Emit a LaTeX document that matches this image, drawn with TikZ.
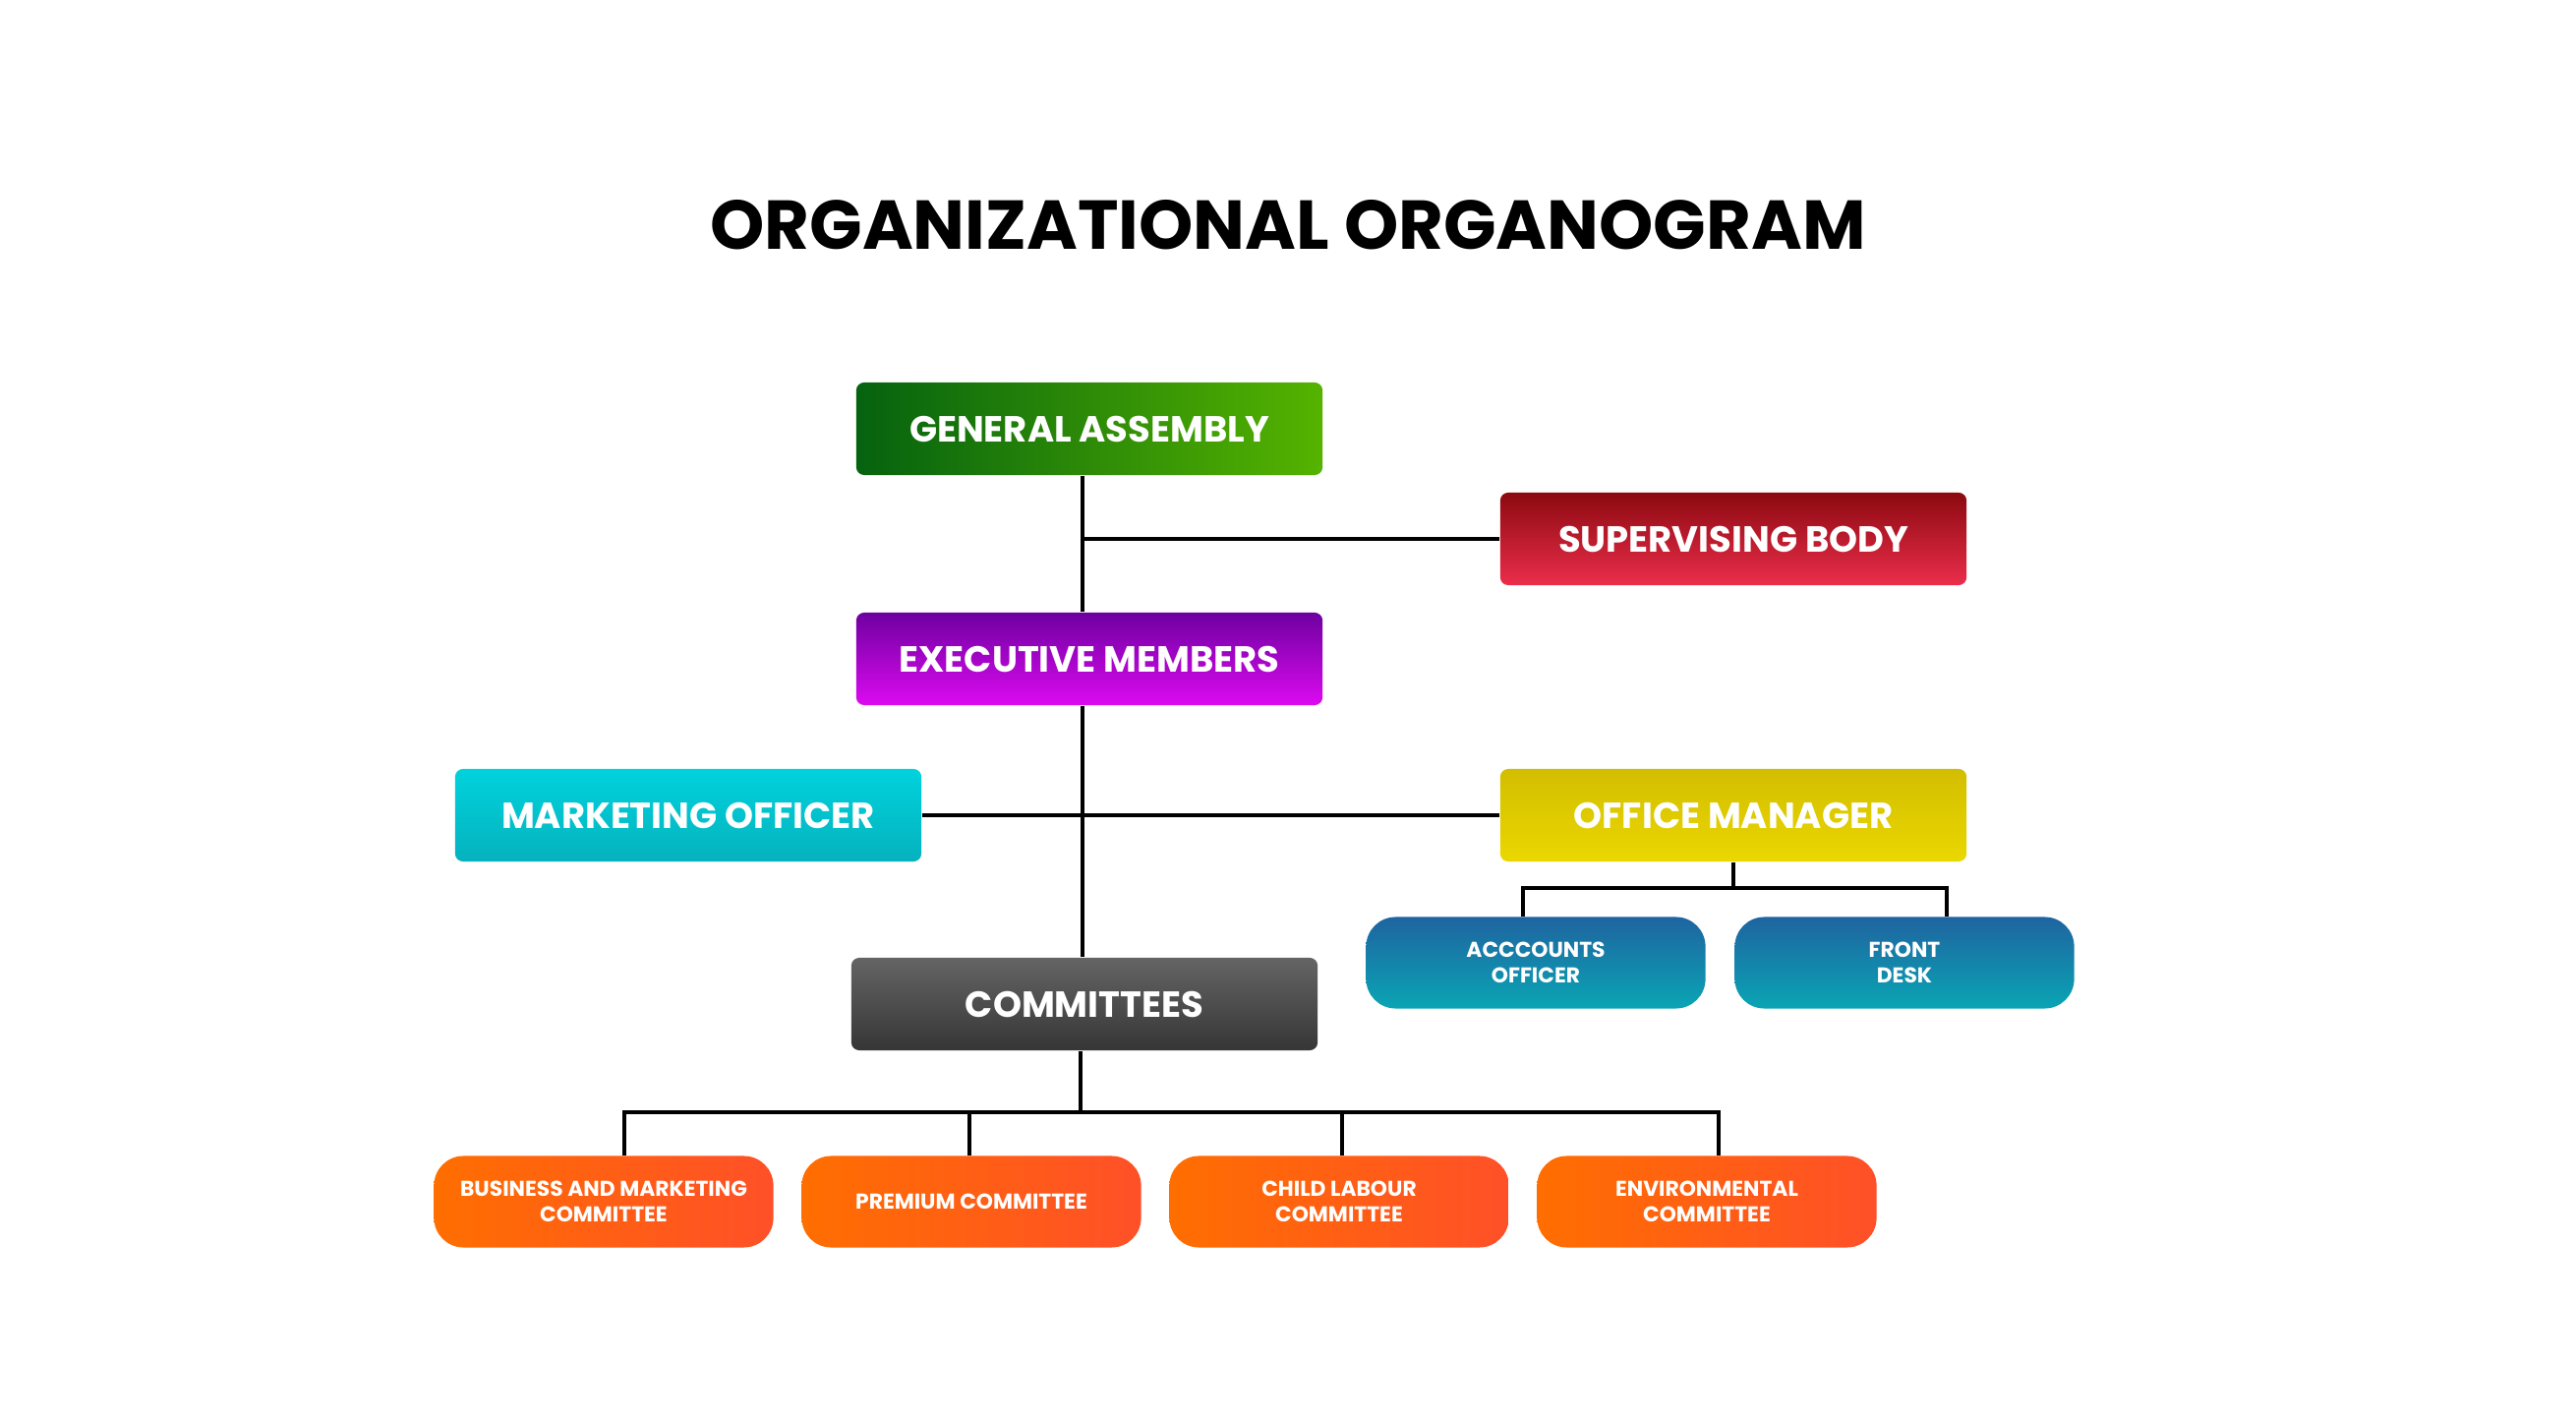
\documentclass[tikz,border=0pt]{standalone}
\usepackage{fontspec}
\setmainfont{Poppins}
\definecolor{gaL}{HTML}{05620F}
\definecolor{gaR}{HTML}{55B300}
\definecolor{sbT}{HTML}{8C0A10}
\definecolor{sbB}{HTML}{EB2D4B}
\definecolor{emT}{HTML}{6E00A0}
\definecolor{emB}{HTML}{DC0AF0}
\definecolor{moT}{HTML}{00D2DC}
\definecolor{moB}{HTML}{05B2BE}
\definecolor{omT}{HTML}{D2BE00}
\definecolor{omB}{HTML}{EBD700}
\definecolor{blT}{HTML}{1E64A0}
\definecolor{blB}{HTML}{0AA5B4}
\definecolor{cmT}{HTML}{646464}
\definecolor{cmB}{HTML}{363636}
\definecolor{orL}{HTML}{FF6E00}
\definecolor{orR}{HTML}{FF5028}
\begin{document}
\begin{tikzpicture}[x=0.01cm,y=-0.01cm,
  box/.style={rounded corners=0.08cm, minimum width=4.74cm, minimum height=0.94cm,
    inner sep=0pt, text=white, font=\fontsize{10.5}{12}\selectfont\bfseries, align=center},
  pill/.style={rounded corners=0.3cm, minimum width=3.45cm, minimum height=0.93cm,
    inner sep=0pt, text=white, font=\fontsize{6.2}{7.4}\selectfont\bfseries, align=center},
  link/.style={line width=0.9pt, black}]
\path[fill=white, use as bounding box] (0,0) rectangle (2620,1446);

\node[font=\fontsize{20}{22}\selectfont\bfseries] (title) at (1310,229) {ORGANIZATIONAL ORGANOGRAM};

\node[box, left color=gaL, right color=gaR] (ga) at (1108,436) {GENERAL ASSEMBLY};
\node[box, top color=sbT, bottom color=sbB] (sb) at (1763,548) {SUPERVISING BODY};
\node[box, top color=emT, bottom color=emB] (em) at (1108,670) {EXECUTIVE MEMBERS};
\node[box, top color=moT, bottom color=moB] (mo) at (700,829) {MARKETING OFFICER};
\node[box, top color=omT, bottom color=omB] (om) at (1763,829) {OFFICE MANAGER};
\node[pill, top color=blT, bottom color=blB] (ao) at (1562,979) {ACCCOUNTS\\OFFICER};
\node[pill, top color=blT, bottom color=blB] (fd) at (1937,979) {FRONT\\DESK};
\node[box, top color=cmT, bottom color=cmB] (cm) at (1103,1021) {COMMITTEES};

\node[pill, left color=orL, right color=orR] (b1) at (614,1222) {BUSINESS AND MARKETING\\COMMITTEE};
\node[pill, left color=orL, right color=orR] (b2) at (988,1222) {PREMIUM COMMITTEE};
\node[pill, left color=orL, right color=orR] (b3) at (1362,1222) {CHILD LABOUR\\COMMITTEE};
\node[pill, left color=orL, right color=orR] (b4) at (1736,1222) {ENVIRONMENTAL\\COMMITTEE};

% trunk
\draw[link] (ga.south -| 1101,0) -- (em.north -| 1101,0);
\draw[link] (em.south -| 1101,0) -- (cm.north -| 1101,0);
\draw[link] (sb.west) -- (sb.west -| 1101,0);
\draw[link] (mo.east) -- (om.west);
% office manager
\draw[link] (om.south) -- (om.south |- 0,903);
\draw[link] (ao.north -| 1549,0) -- (1549,903) -- (1980,903) -- (fd.north -| 1980,0);
% committees
\draw[link] (cm.south -| 1099,0) -- (1099,1131);
\draw[link] (b1.north -| 635,0) -- (635,1131) -- (1748,1131) -- (b4.north -| 1748,0);
\draw[link] (b2.north -| 986,0) -- (986,1131);
\draw[link] (b3.north -| 1365,0) -- (1365,1131);
\end{tikzpicture}
\end{document}
